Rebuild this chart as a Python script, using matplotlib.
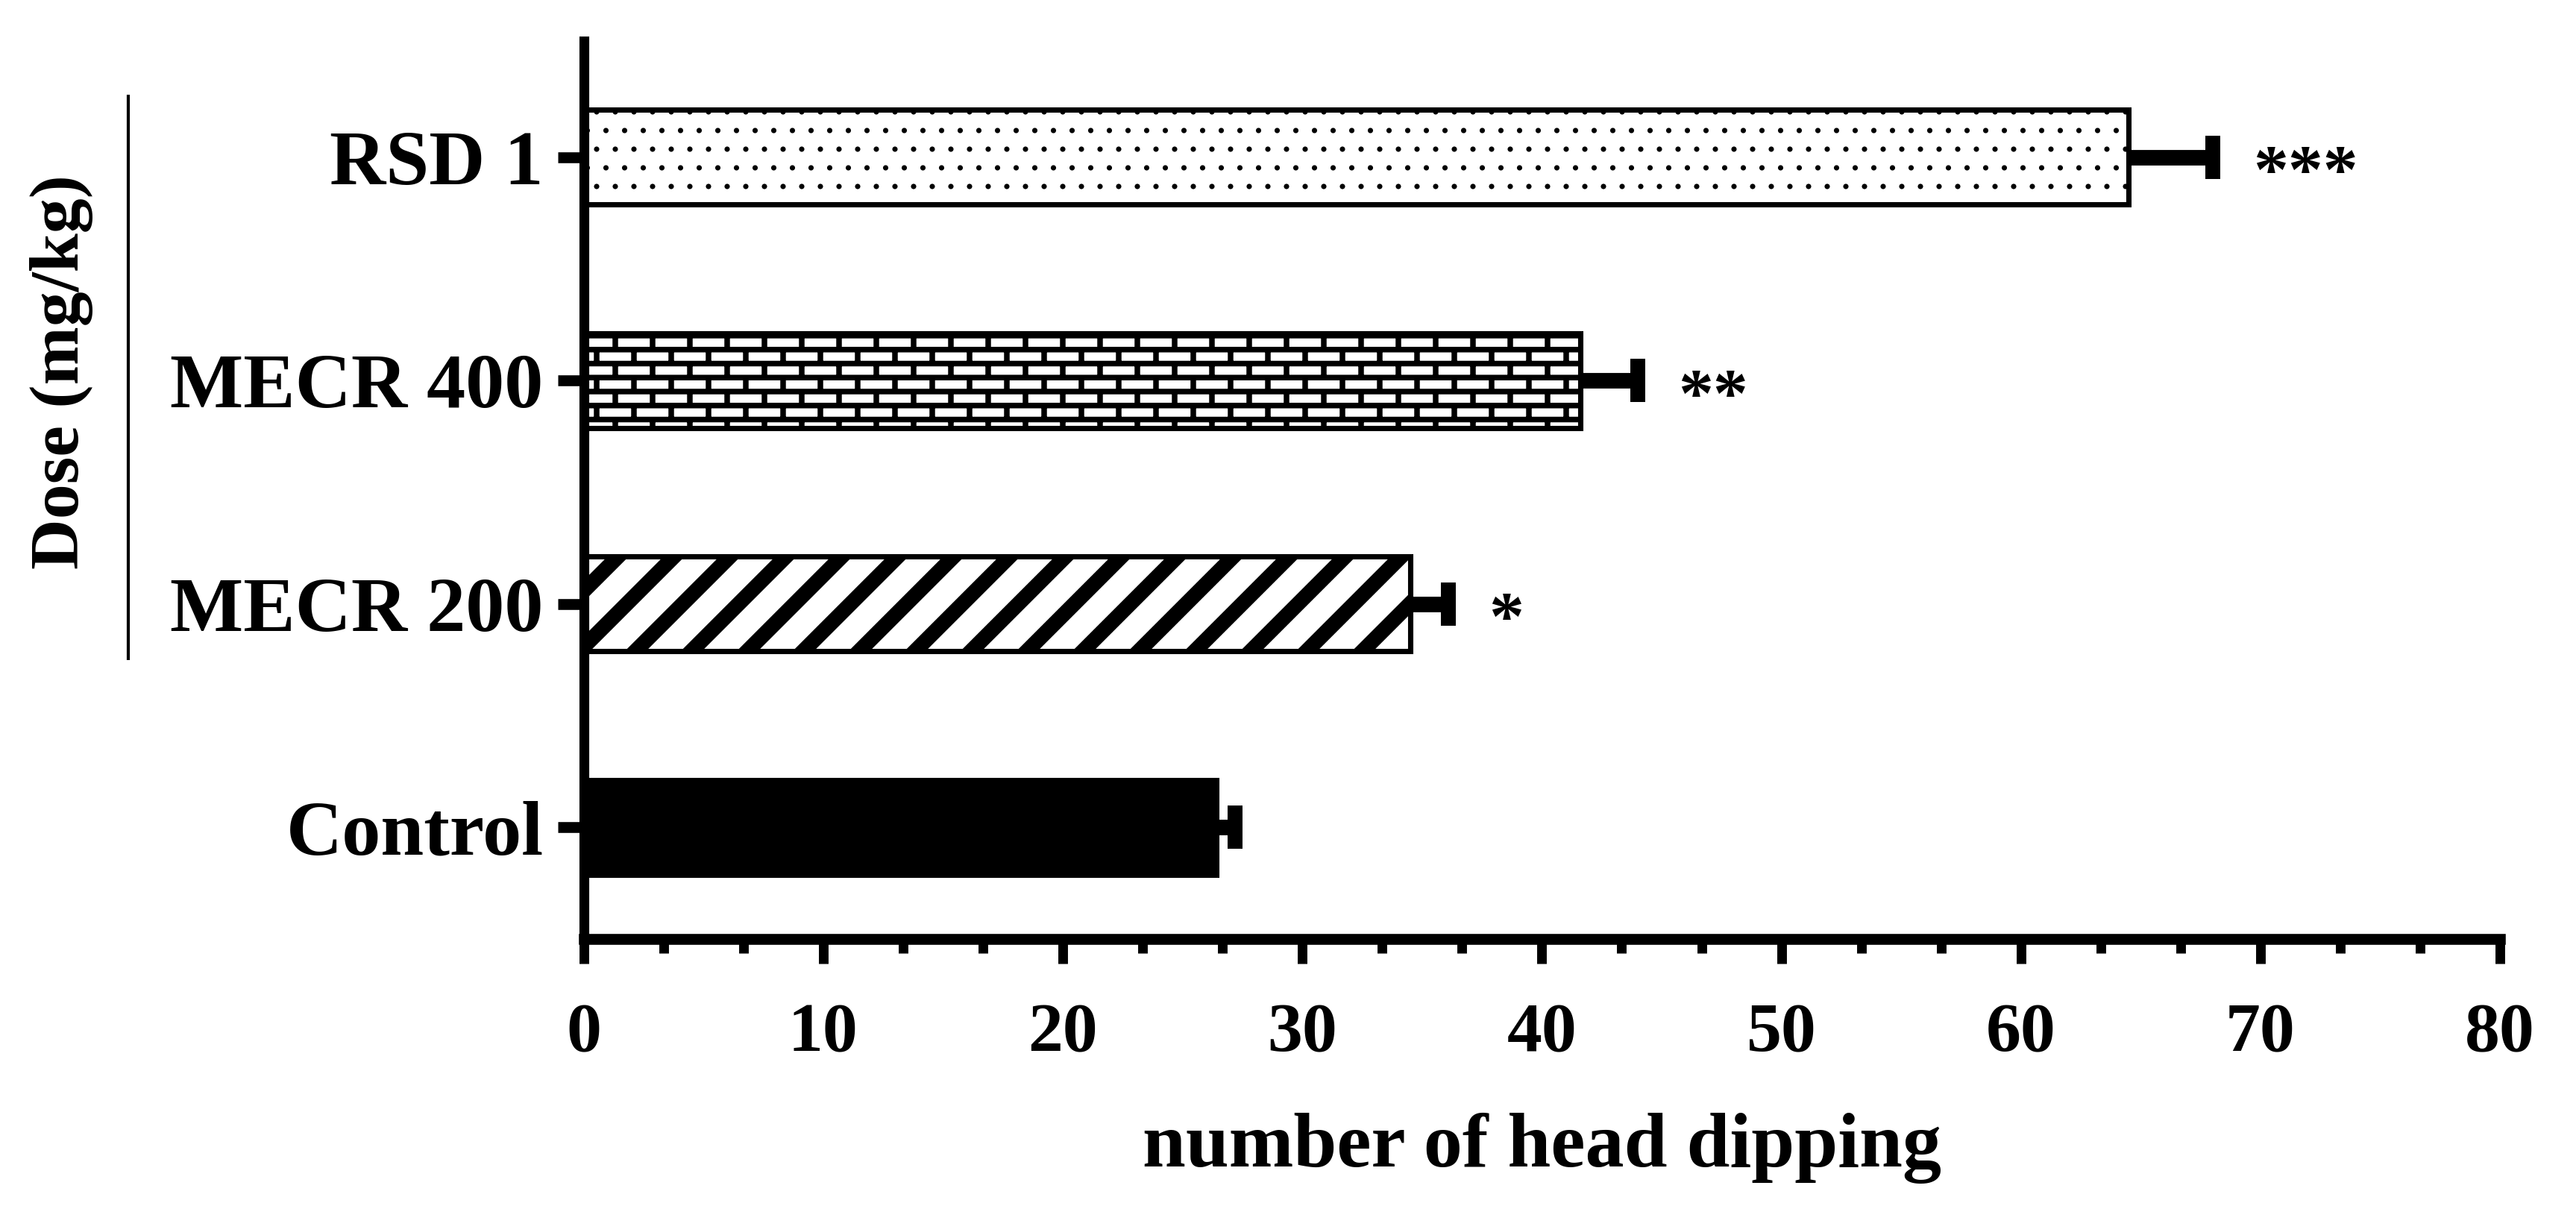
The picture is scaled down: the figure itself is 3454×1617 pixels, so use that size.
import numpy as np
import matplotlib
matplotlib.use("Agg")
import matplotlib.pyplot as plt
import matplotlib.hatch as mhatch
import matplotlib.transforms as mtransforms
from matplotlib.path import Path
from matplotlib.ticker import MultipleLocator

groups = ["Control", "MECR 200", "MECR 400", "RSD 1"]
means = [26.4, 34.5, 41.6, 64.5]
errors = [0.8, 1.6, 2.4, 3.5]
stars = ["", "*", "**", "***"]
hatches = [None, "/", "*", "."]
faces = ["black", "white", "white", "white"]


# custom hatch patterns: bricks on '*', wide diagonal stripes on '/'
class PolyHatch(mhatch.HatchPatternBase):
    def __init__(self, hatch, density):
        self.polys = self.make(hatch) if hatch.count(self.char) else []
        self.num_vertices = 5 * len(self.polys)

    def set_vertices_and_codes(self, vertices, codes):
        for i, p in enumerate(self.polys):
            vertices[5 * i:5 * i + 4] = p
            vertices[5 * i + 4] = p[0]
            codes[5 * i] = Path.MOVETO
            codes[5 * i + 1:5 * i + 4] = Path.LINETO
            codes[5 * i + 4] = Path.CLOSEPOLY


class BrickHatch(PolyHatch):
    char = "*"

    def make(self, hatch):
        rows, cols, t = 8, 3, 0.036
        polys = []
        for r in range(rows + 1):
            yy = r / rows
            polys.append([(-0.1, yy - t / 2), (1.1, yy - t / 2),
                          (1.1, yy + t / 2), (-0.1, yy + t / 2)])
        for r in range(rows):
            shift = 0.5 * (r % 2)
            for j in range(-1, cols + 1):
                xx = (j + shift) / cols
                polys.append([(xx - t / 2, r / rows), (xx + t / 2, r / rows),
                              (xx + t / 2, (r + 1) / rows), (xx - t / 2, (r + 1) / rows)])
        return polys


class StripeHatch(PolyHatch):
    char = "/"

    def make(self, hatch):
        w = 0.17
        polys = []
        for c in np.arange(-1.5, 1.51, 0.5):
            polys.append([(c - w / 2 - 0.1, -0.1), (c + w / 2 - 0.1, -0.1),
                          (c + w / 2 + 1.1, 1.1), (c - w / 2 + 1.1, 1.1)])
        return polys


mhatch._hatch_types = [mhatch.SmallFilledCircles, BrickHatch, StripeHatch]

plt.rcParams['font.family'] = ['Liberation Serif', 'DejaVu Serif']
plt.rcParams['font.weight'] = 'bold'
plt.rcParams['hatch.linewidth'] = 1.0

fig = plt.figure(figsize=(3454 / 150, 1617 / 150))
ax = fig.add_axes([0.2266, 0.2214, 0.7439, 0.7446])

y = np.arange(len(groups))
bars = ax.barh(y, means, height=0.425, color=faces, edgecolor="black",
               linewidth=3.4, zorder=2)
for b, h in zip(bars, hatches):
    if h:
        b.set_hatch(h)

ends = np.array(means) + np.array(errors)
ax.errorbar(means, y, xerr=[np.zeros(len(y)), errors], fmt="none",
            ecolor="black", elinewidth=10, capsize=0, zorder=3)
ax.plot(ends, y, ls="none", marker="|", ms=28, mew=9.6, color="black", zorder=3)

for yi, e, s in zip(y, ends, stars):
    if s:
        ax.annotate(s, xy=(e, yi), xytext=(26, -12), textcoords="offset points",
                    ha="left", va="center", fontsize=45, fontweight="bold")

ax.set_xlim(0, 80)
ax.set_ylim(-0.5, 3.52)
ax.xaxis.set_major_locator(MultipleLocator(10))
ax.xaxis.set_minor_locator(MultipleLocator(10 / 3))
ax.set_yticks(y, groups)

for side in ["top", "right"]:
    ax.spines[side].set_visible(False)
ax.spines["left"].set_linewidth(6.3)
ax.spines["bottom"].set_linewidth(7)

ax.tick_params(axis="y", length=17, width=7, pad=9, labelsize=50)
ax.tick_params(axis="x", which="major", length=16, width=6.2, pad=25, labelsize=45)
ax.tick_params(axis="x", which="minor", length=9, width=6.2)

ax.set_xlabel("number of head dipping", fontsize=50, fontweight="bold", labelpad=30)

# group label with bracket line
trans = mtransforms.blended_transform_factory(ax.transAxes, ax.transData)
ax.plot([-0.2377, -0.2377], [0.75, 3.28], transform=trans, color="black",
        lw=2, clip_on=False, solid_capstyle="butt")
ax.text(-0.2724, 2.04, "Dose (mg/kg)", transform=trans, rotation=90,
        ha="center", va="center", fontsize=45, fontweight="bold")

fig.savefig("out.png", dpi=150)
